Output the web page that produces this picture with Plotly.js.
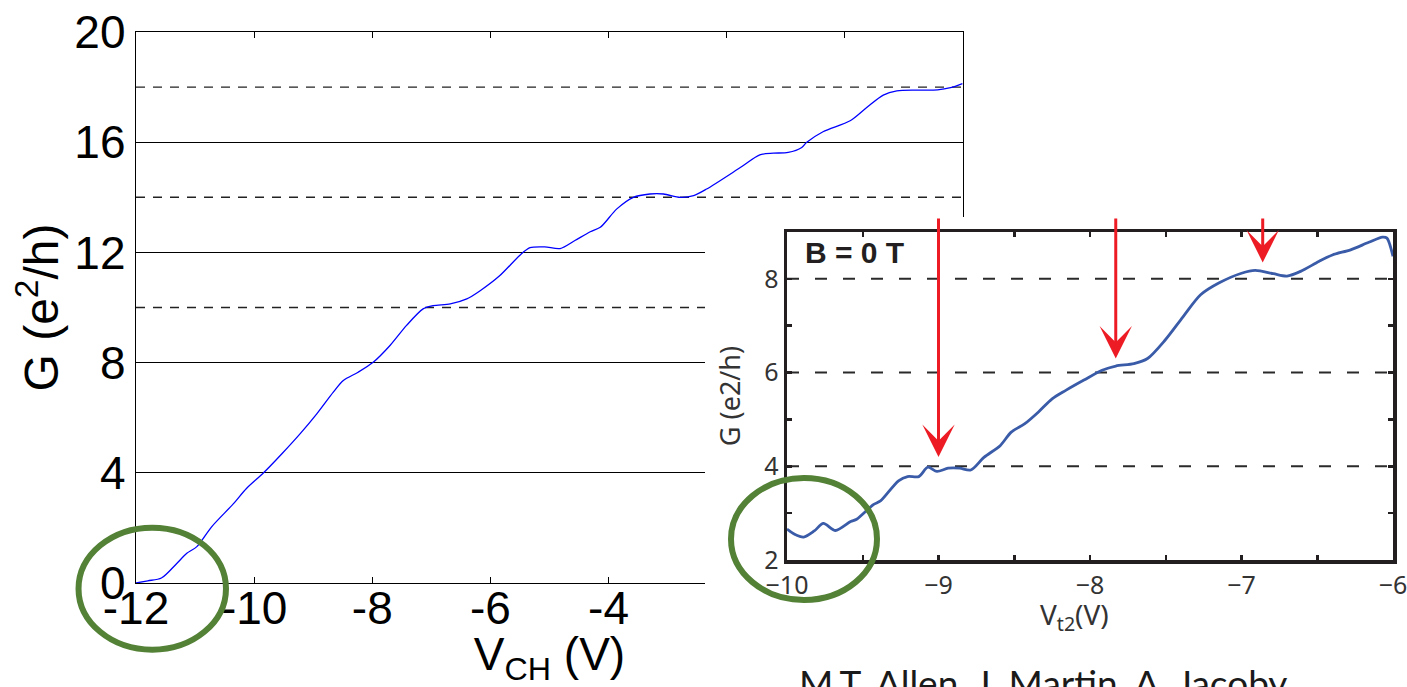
<!DOCTYPE html>
<html>
<head>
<meta charset="utf-8">
<script src="https://cdn.plot.ly/plotly-3.0.1.min.js"></script>
<style>
  html, body { margin:0; padding:0; background:#fff; overflow:hidden; }
  #main { position:absolute; left:0; top:0; width:1407px; height:687px; }
  #inset { position:absolute; left:705px; top:217px; width:702px; height:470px; }
</style>
</head>
<body>
<div id="main"></div>
<div id="inset"></div>
<script>
// ---------- Main chart data ----------
const mainV = [-12, -11.8, -11.57, -11.31, -11.14, -10.97, -10.72, -10.35, -10.13, -9.84, -9.53, -9.22, -8.94, -8.66, -8.49, -8.24, -7.98, -7.70, -7.42, -7.14, -6.97, -6.68, -6.40, -6.18, -5.84, -5.5, -5.33, -5.08, -4.82, -4.57, -4.31, -4.14, -3.86, -3.58, -3.30, -3.07, -2.79, -2.56, -2.34, -1.77, -1.44, -1.21, -0.96, -0.73, -0.65, -0.37, 0.09, 0.37, 0.65, 0.88, 1.22, 1.57, 1.79, 1.99];
const mainG = [0, 0.08, 0.18, 0.71, 1.08, 1.32, 2.04, 2.88, 3.43, 4.0, 4.69, 5.42, 6.14, 6.93, 7.35, 7.65, 8.02, 8.62, 9.35, 9.95, 10.07, 10.13, 10.31, 10.6, 11.16, 11.9, 12.17, 12.2, 12.14, 12.43, 12.75, 12.91, 13.58, 14.0, 14.12, 14.12, 14.0, 14.06, 14.3, 15.08, 15.54, 15.6, 15.63, 15.81, 15.99, 16.38, 16.78, 17.26, 17.71, 17.86, 17.89, 17.9, 17.98, 18.13];
const mainXTicks = [-12, -10, -8, -6, -4, -2, 0, 2];
const mainXLabels = ['-12', '-10', '-8', '-6', '-4', '-2', '0', '2'];
const mainYTicks = [0, 4, 8, 12, 16, 20];
const mainYLabels = ['0', '4', '8', '12', '16', '20'];
const mainDashedG = [10, 14, 18];

// ---------- Inset data ----------
const insetV = [-10.0, -9.95, -9.89, -9.82, -9.76, -9.68, -9.58, -9.54, -9.43, -9.383, -9.264, -9.204, -9.13, -9.07, -9.01, -8.936, -8.86, -8.787, -8.70, -8.593, -8.52, -8.43, -8.34, -8.25, -8.16, -8.04, -7.92, -7.83, -7.71, -7.62, -7.505, -7.386, -7.27, -7.15, -7.0, -6.91, -6.79, -6.70, -6.61, -6.49, -6.40, -6.28, -6.16, -6.07, -6.04, -6.0];
const insetG = [2.66, 2.55, 2.49, 2.62, 2.78, 2.63, 2.82, 2.87, 3.18, 3.26, 3.69, 3.78, 3.78, 3.98, 3.89, 3.96, 3.96, 3.92, 4.19, 4.44, 4.73, 4.91, 5.16, 5.44, 5.62, 5.84, 6.05, 6.14, 6.19, 6.30, 6.69, 7.19, 7.66, 7.91, 8.12, 8.18, 8.11, 8.06, 8.16, 8.37, 8.51, 8.62, 8.78, 8.89, 8.87, 8.48];
const insetXTicks = [-10, -9, -8, -7, -6];
const insetXLabels = ['\u221210', '\u22129', '\u22128', '\u22127', '\u22126'];
const insetYTicks = [2, 4, 6, 8];
const insetYLabels = ['2', '4', '6', '8'];
const insetDashedG = [4, 6, 8];
const arrowV = [-9.0, -7.83, -6.86];
const arrowTipG = [4.2, 6.3, 8.35];
const arrowTailG = 9.32;

const GREEN = '#538135';

// ---------- Main plot ----------
const mainShapes = mainDashedG.map(g => ({
  type: 'line', xref: 'paper', yref: 'y', x0: 0, x1: 1, y0: g, y1: g,
  line: { color: '#222', width: 1.4, dash: '9px,8px' }, layer: 'below'
}));
mainShapes.push({
  type: 'circle', xref: 'paper', yref: 'paper',
  x0: -0.0695, x1: 0.1088, y0: -0.121, y1: 0.1004,
  line: { color: GREEN, width: 6 }, layer: 'above'
});

Plotly.newPlot('main', [{
  x: mainV, y: mainG, type: 'scatter', mode: 'lines',
  line: { color: '#0000ff', width: 1.3, shape: 'spline', smoothing: 0.8 },
  hoverinfo: 'skip'
}], {
  width: 1407, height: 687,
  margin: { l: 136, r: 444, t: 32, b: 104 },
  paper_bgcolor: '#fff', plot_bgcolor: '#fff', showlegend: false,
  font: { family: 'Liberation Sans, Arial, sans-serif', color: '#000' },
  xaxis: {
    range: [-12, 2], tickvals: mainXTicks, ticktext: mainXLabels,
    ticks: 'inside', ticklen: 6, tickwidth: 1, tickcolor: '#000',
    showline: true, linecolor: '#000', linewidth: 1.3, mirror: 'ticks',
    showgrid: false, zeroline: false, automargin: false,
    ticklabelstandoff: -16,
    tickfont: { size: 46, color: '#000' },
    title: { text: 'V<sub>CH</sub> (V)', font: { size: 46, color: '#000' }, standoff: 4 }
  },
  yaxis: {
    range: [0, 20], tickvals: mainYTicks, ticktext: mainYLabels,
    ticks: '', showline: true, linecolor: '#000', linewidth: 1.3, mirror: true,
    showgrid: true, gridcolor: '#000', gridwidth: 1.3, zeroline: false, automargin: false,
    tickfont: { size: 46, color: '#000' },
    title: { text: 'G (e<sup>2</sup>/h)', font: { size: 48, color: '#000' }, standoff: 0 }
  },
  shapes: mainShapes
}, { staticPlot: true });

// ---------- Inset plot ----------
const insetShapes = insetDashedG.map(g => ({
  type: 'line', xref: 'paper', yref: 'y', x0: 0, x1: 1, y0: g, y1: g,
  line: { color: '#2a2a2a', width: 2, dash: '12px,16px' }, layer: 'below'
}));
insetShapes.push({
  type: 'circle', xref: 'paper', yref: 'paper',
  x0: -0.0924, x1: 0.1485, y0: -0.122, y1: 0.25,
  line: { color: GREEN, width: 6 }, layer: 'above'
});

const insetAnn = arrowV.map((v, i) => ({
  x: v, y: arrowTipG[i], xref: 'x', yref: 'y',
  ax: v, ay: arrowTailG, axref: 'x', ayref: 'y',
  showarrow: true, arrowhead: 3, arrowsize: 1.8, arrowwidth: 3,
  arrowcolor: '#ed1c24', text: ''
}));
insetAnn.push({
  text: '<b>B = 0 T</b>', xref: 'paper', yref: 'paper', x: 0.026, y: 0.936,
  xanchor: 'left', yanchor: 'middle', showarrow: false,
  font: { family: 'Liberation Sans, Arial, sans-serif', size: 30, color: '#231f20' }
});
insetAnn.push({
  text: 'V<sub>t2</sub>(V)', xref: 'paper', yref: 'paper', x: 0.475, y: -0.172,
  xanchor: 'center', yanchor: 'middle', showarrow: false,
  font: { family: 'Noto Sans, Open Sans, sans-serif', size: 28, color: '#333' }
});
insetAnn.push({
  text: 'M.T. Allen, J. Martin, A. Jacoby', xref: 'paper', yref: 'paper', x: 0.0165, y: -0.30,
  xanchor: 'left', yanchor: 'top', showarrow: false,
  font: { family: 'Lato, Open Sans, sans-serif', size: 37, color: '#1a1a1a' }
});

const insetTickStyle = { ticks: 'inside', ticklen: 5, tickwidth: 2.5, tickcolor: '#231f20' };

Plotly.newPlot('inset', [{
  x: insetV, y: insetG, type: 'scatter', mode: 'lines',
  line: { color: '#3a5ba8', width: 2.8, shape: 'spline', smoothing: 0.8 },
  hoverinfo: 'skip'
}], {
  width: 702, height: 470,
  margin: { l: 82, r: 14, t: 15, b: 127 },
  paper_bgcolor: '#fff', plot_bgcolor: '#fff', showlegend: false,
  font: { family: 'Noto Sans, Open Sans, sans-serif', color: '#333' },
  xaxis: Object.assign({
    range: [-10, -6], tickvals: insetXTicks, ticktext: insetXLabels,
    showline: true, linecolor: '#231f20', linewidth: 3.5, mirror: 'ticks',
    showgrid: false, zeroline: false, automargin: false, ticklabeloverflow: 'allow',
    tickfont: { size: 25, color: '#333' },
    minor: Object.assign({ dtick: 0.5, tick0: -10, showgrid: false }, insetTickStyle)
  }, insetTickStyle),
  yaxis: Object.assign({
    range: [2, 9], tickvals: insetYTicks, ticktext: insetYLabels,
    showline: true, linecolor: '#231f20', linewidth: 3.5, mirror: 'ticks',
    showgrid: false, zeroline: false, automargin: false, ticklabeloverflow: 'allow',
    tickfont: { size: 25, color: '#333' },
    minor: Object.assign({ dtick: 1, tick0: 2, showgrid: false }, insetTickStyle),
    title: { text: 'G (e2/h)', font: { size: 27, color: '#333' }, standoff: 16 }
  }, insetTickStyle),
  shapes: insetShapes,
  annotations: insetAnn
}, { staticPlot: true });
</script>
</body>
</html>
